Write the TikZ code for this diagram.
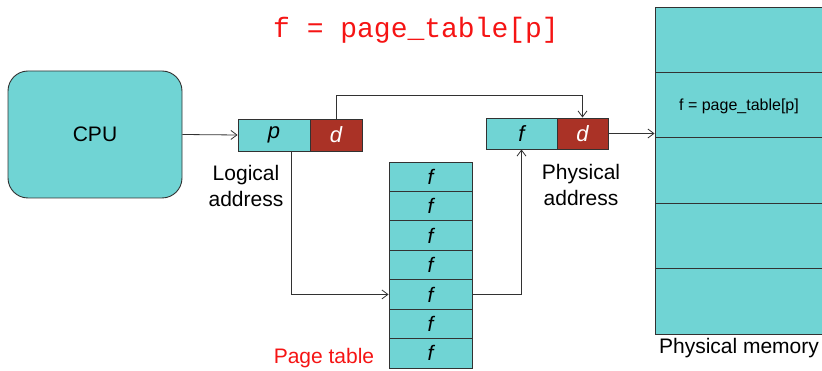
\documentclass[tikz,border=0pt]{standalone}
\usepackage{fontspec}
\setmainfont{Liberation Sans}
\newfontfamily\codefont{Liberation Mono}
\usetikzlibrary{arrows.meta}
\definecolor{tealfill}{RGB}{112,212,212}
\definecolor{offred}{RGB}{170,50,38}
\definecolor{edge}{RGB}{50,50,50}
\definecolor{titlered}{RGB}{245,20,20}
\tikzset{
  cell/.style={draw=edge, line width=0.9pt, fill=tealfill, inner sep=0pt, anchor=center},
  offcell/.style={cell, fill=offred, text=white},
  arr/.style={draw=edge, line width=0.8pt, -{Straight Barb[length=6pt,width=9pt]}},
  lbl/.style={font=\fontsize{21}{25}\selectfont, align=center, inner sep=0pt},
  ital/.style={font=\fontsize{22}{26}\selectfont\itshape},
}
\begin{document}
\begin{tikzpicture}[x=1pt, y=-1pt]
\useasboundingbox (0,0) rectangle (822,371);
\clip (0,0) rectangle (822,371);

% CPU
\node[cell, rounded corners=20pt, minimum width=174pt, minimum height=127pt,
      font=\fontsize{21}{25}\selectfont] (cpu) at (95,134.5) {CPU};

% logical address
\node[cell, minimum width=72pt, minimum height=32pt, ital] (lp) at (274,135) {p};
\node[offcell, minimum width=52pt, minimum height=32pt, ital] (ld) at (336,135) {d};
\node[lbl] (lalbl) at (246,186) {Logical\\[1pt]address};

% physical address
\node[cell, minimum width=71pt, minimum height=31pt, ital] (pf) at (521.5,133.5) {f};
\node[offcell, minimum width=51pt, minimum height=31pt, ital] (pd) at (582.5,133.5) {d};
\node[lbl] (palbl) at (581,185) {Physical\\[1pt]address};

% page table
\foreach \i in {1,...,7}{
  \node[cell, minimum width=83pt, minimum height=29.43pt,
        font=\fontsize{21}{25}\selectfont\itshape] (pt\i) at (430.5,{162+29.43*(\i-0.5)}) {f};
}
\node[lbl, text=titlered] (ptlbl) at (324,358) {Page table};

% physical memory
\foreach \i in {1,...,5}{
  \node[cell, minimum width=175pt, minimum height=65.4pt] (m\i) at (742.5,{7+65.4*(\i-0.5)}) {};
}
\node[font=\fontsize{16}{19}\selectfont, inner sep=0pt] (mtext) at (739,106) {f = page\_table[p]};
\node[lbl] (memlbl) at (739,348) {Physical memory};

% title
\node[font=\codefont\fontsize{28}{32}\selectfont, text=titlered, inner sep=0pt] (title) at (416,30) {f = page\_table[p]};

% connectors
\draw[arr] (cpu.east) -- (lp.west);
\draw[arr] (ld.north) -- ++(0,-23) -| (pd.north);
\draw[arr] ([xshift=17pt]lp.south) |- (pt5.west);
\draw[arr] (pt5.east) -| (pf.south);
\draw[arr] (pd.east) -- (pd.east -| m1.west);
\end{tikzpicture}
\end{document}
